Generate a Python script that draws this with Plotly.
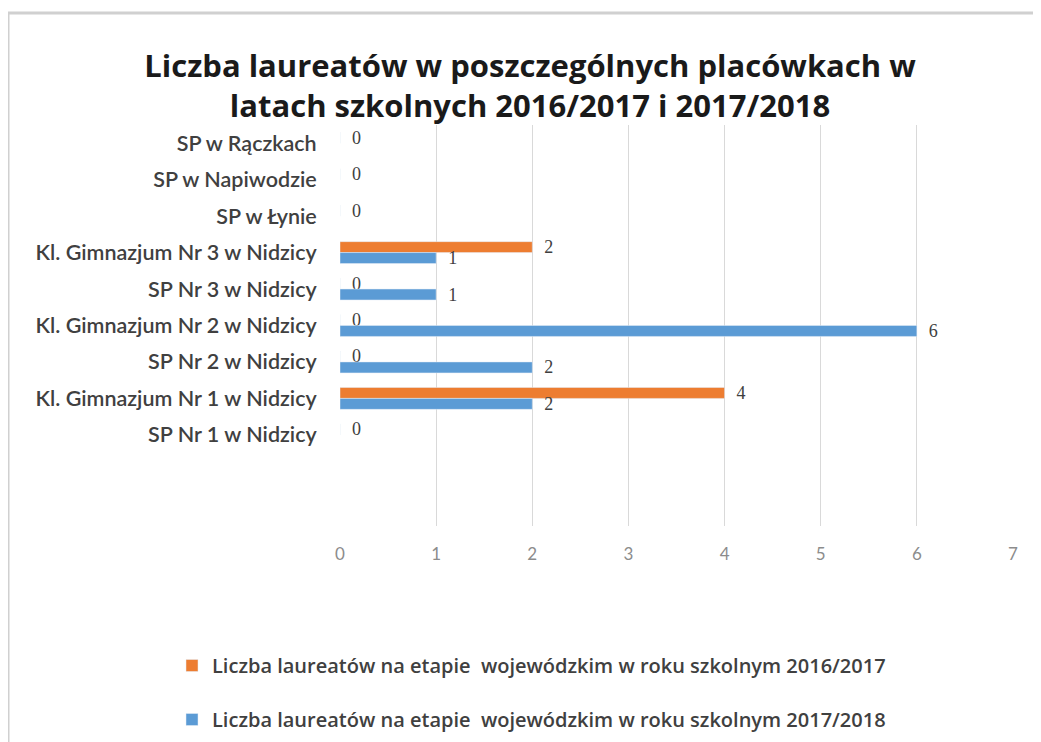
import plotly.graph_objects as go

categories = [
    "SP w Rączkach",
    "SP w Napiwodzie",
    "SP w Łynie",
    "Kl. Gimnazjum Nr 3 w Nidzicy",
    "SP Nr 3 w Nidzicy",
    "Kl. Gimnazjum Nr 2 w Nidzicy",
    "SP Nr 2 w Nidzicy",
    "Kl. Gimnazjum Nr 1 w Nidzicy",
    "SP Nr 1 w Nidzicy",
    " ",
    "  ",
]
values_2016_2017 = [0, 0, 0, 2, 0, 0, 0, 4, 0, None, None]
values_2017_2018 = [None, None, None, 1, 1, 6, 2, 2, None, None, None]
x_ticks = [0, 1, 2, 3, 4, 5, 6, 7]

name_2016 = "Liczba laureatów na etapie  wojewódzkim w roku szkolnym 2016/2017"
name_2017 = "Liczba laureatów na etapie  wojewódzkim w roku szkolnym 2017/2018"

label_font = dict(family="Liberation Serif, DejaVu Serif, serif", size=18, color="#404040")
pad = "\u00a0\u00a0"

fig = go.Figure()
fig.add_trace(go.Bar(
    x=values_2016_2017, y=categories, orientation="h", name=name_2016,
    marker_color="#ED7D31", legendgroup="a",
    text=[None if v is None else f"{pad}{v}" for v in values_2016_2017],
    textposition="outside", textfont=label_font, cliponaxis=False, constraintext="none",
))
fig.add_trace(go.Bar(
    x=values_2017_2018, y=categories, orientation="h", name=name_2017,
    marker_color="#5B9BD5", legendgroup="b",
    text=[None if v is None else f"{pad}{v}" for v in values_2017_2018],
    textposition="outside", textfont=label_font, cliponaxis=False, constraintext="none",
))

W, H = 1041, 742
L, R, T, B = 332, 36, 117, 224
pw = W - L - R
ph = H - T - B

frame = dict(color="#d0d0d0", width=3)
fx0 = (0 - L) / pw
fx1 = (W - 1 - L) / pw
fy1 = 1 - (5 - T) / ph
fy0 = 1 - (H - 1 - T) / ph

fig.update_layout(
    width=W, height=H,
    margin=dict(l=L, r=R, t=T, b=B, autoexpand=False),
    paper_bgcolor="white", plot_bgcolor="white",
    barmode="group", bargap=0.4, bargroupgap=0,
    title=dict(
        text="<b>Liczba laureatów w poszczególnych placówkach w<br>latach szkolnych 2016/2017 i 2017/2018</b>",
        font=dict(family="Open Sans, sans-serif", size=31, color="#1a1a1a"),
        x=522 / W, xanchor="center", xref="container",
        y=1 - 69 / H, yanchor="middle", yref="container",
    ),
    xaxis=dict(
        range=[0, 7], tickvals=x_ticks, showgrid=True, gridcolor="#d9d9d9", gridwidth=1,
        zeroline=False, showline=False, automargin=False,
        ticks="outside", ticklen=13, tickcolor="rgba(0,0,0,0)",
        tickfont=dict(family="Lato, sans-serif", size=17, color="#8c8c8c"),
    ),
    yaxis=dict(
        categoryorder="array", categoryarray=categories,
        range=[len(categories) - 0.5, -0.5], automargin=False,
        showgrid=False, zeroline=False, showline=False,
        ticks="outside", ticklen=18, tickcolor="rgba(0,0,0,0)",
        tickfont=dict(family="Lato, sans-serif", size=21.5, color="#404040", weight=600),
    ),
    legend=dict(
        orientation="v", x=164 / W, xanchor="left", xref="container",
        y=1 - 638 / H, yanchor="top", yref="container",
        traceorder="grouped", tracegroupgap=25,
        font=dict(family="Open Sans, sans-serif", size=20, color="#404040", weight=600),
        itemwidth=30,
    ),
    showlegend=True,
    shapes=[
        dict(type="line", xref="paper", yref="paper", x0=fx0, x1=fx0, y0=fy0, y1=fy1, line=frame, layer="below"),
        dict(type="line", xref="paper", yref="paper", x0=fx0, x1=fx1, y0=fy1, y1=fy1, line=frame, layer="below"),
    ],
)

fig.write_html(
    "out.html",
    post_script="document.documentElement.style.overflow='hidden';document.body.style.overflow='hidden';",
)
